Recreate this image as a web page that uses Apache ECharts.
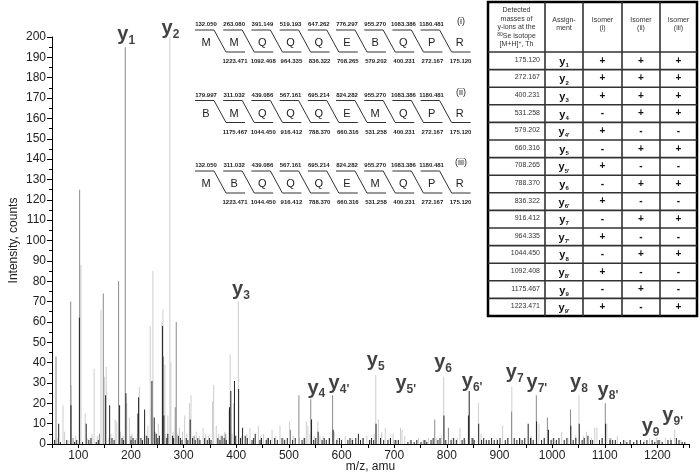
<!DOCTYPE html>
<html>
<head>
<meta charset="utf-8">
<script src="https://cdn.jsdelivr.net/npm/echarts@6/dist/echarts.min.js"></script>
<style>
  html, body { margin: 0; background: #fff; }
  #main { width: 700px; height: 475px; }
</style>
</head>
<body>
<div id="main"></div>
<script>
  // peaks of the three overlaid spectra: [m/z, counts]
  const lightPeaks = [
    [70.9, 19], [74, 6], [86.7, 29], [105, 88], [113, 15], [130, 37], [143, 66], [150, 33], [153, 38],
    [170, 12], [173, 11], [192, 20], [197, 13], [216, 28], [236.6, 58], [241.7, 85], [258.8, 60],
    [260.7, 66], [264.5, 39], [273.9, 200], [275.8, 40], [302, 14], [311, 20], [314, 24], [337, 8],
    [355, 21], [357, 29], [362, 9], [386, 17], [388.4, 44], [395, 20], [404, 70], [426, 8], [442, 9],
    [452, 5], [468, 7], [483, 9], [501, 11], [533, 11], [536, 9], [555, 11], [559, 4], [586, 6],
    [607, 4], [648, 4], [665, 34], [670, 12], [676, 6], [683, 8], [698, 5], [712, 8], [715, 7],
    [720, 4], [746, 3], [765, 3], [794, 33], [825, 8], [860, 20], [906, 9], [923.5, 28], [975, 10],
    [1018, 6], [1051, 24], [1065, 6], [1081, 8], [1085, 8], [1104, 10], [1124, 4], [1185, 3],
    [1198, 3], [1215, 3], [1233, 7],
    [60, 3], [82, 2], [95, 4], [118, 3], [126, 5], [136, 4], [158, 3], [162, 5], [180, 6], [185, 4],
    [202, 5], [210, 3], [228, 4], [232, 9], [246, 6], [252, 10], [266, 5], [270, 14], [280, 6],
    [288, 5], [292, 8], [298, 6], [306, 5], [318, 4], [324, 6], [330, 4], [342, 5], [347, 4],
    [366, 5], [370, 4], [378, 6], [392, 5], [410, 4], [420, 5], [446, 4], [458, 3], [475, 4],
    [490, 3], [508, 4], [520, 3], [540, 5], [548, 4], [565, 4], [575, 3], [592, 3], [620, 3],
    [640, 3], [655, 2], [662, 5], [690, 3], [705, 2], [730, 2], [755, 2], [780, 3], [790, 4],
    [810, 3], [820, 3], [835, 2], [850, 3], [865, 5], [880, 2], [895, 3], [915, 3], [940, 3],
    [960, 4], [985, 3], [1000, 3], [1030, 3], [1045, 4], [1060, 4], [1075, 3], [1095, 3],
    [1112, 3], [1140, 2], [1160, 2], [1175, 2], [1205, 2], [1225, 3], [1245, 2]
  ];
  const midPeaks = [
    [57.6, 43], [85.5, 70], [102.5, 125], [147.4, 74], [176.5, 80], [189.2, 195], [261.9, 43],
    [284.1, 18], [286, 60], [503, 7], [519, 24], [541.5, 22], [583, 24], [777, 12], [803, 8],
    [923, 16], [970, 24], [991, 13], [1035, 17], [1101, 20],
    [90, 3], [140, 5], [200, 4], [245, 6], [320, 4], [380, 5], [460, 3], [530, 3], [620, 2],
    [700, 2], [760, 2], [850, 3], [960, 3], [1110, 3], [1200, 2]
  ];
  const darkPeaks = [
    [62.7, 10], [86, 19], [102, 62], [115, 10], [151.9, 24], [159.5, 19], [178.4, 19], [190.4, 25],
    [213.2, 15], [214.5, 23], [225.9, 17], [239.8, 31], [244.2, 13], [260, 58], [262.5, 14],
    [312.5, 12], [387.2, 18], [389.7, 26], [396.6, 31], [404.5, 27], [412, 8], [436, 5], [543, 12],
    [555.5, 6], [584, 7], [632, 5], [665.5, 10], [794.5, 14], [841, 14], [842.5, 26], [860.5, 10],
    [954.5, 10], [970.5, 11], [993, 7], [1035.5, 9], [1051.5, 10], [1068, 4], [1101.5, 10], [1236, 3],
    [55, 2], [66, 1], [78, 2], [93, 1], [97, 2], [108, 1], [120, 2], [124, 3], [134, 1], [138, 2],
    [164, 3], [168, 2], [183, 3], [186, 2], [200, 2], [204, 3], [208, 2], [219, 3], [222, 2],
    [230, 4], [233, 3], [248, 5], [251, 3], [254, 4], [268, 3], [270, 5], [279, 4], [281, 3],
    [290, 4], [294, 3], [297, 2], [305, 3], [308, 2], [317, 3], [322, 2], [327, 3], [331, 2],
    [340, 3], [345, 2], [349, 3], [352, 2], [365, 3], [369, 2], [373, 4], [377, 3], [381, 2],
    [399, 4], [408, 3], [417, 4], [421, 3], [430, 2], [433, 3], [445, 2], [448, 3], [457, 2],
    [461, 3], [465, 2], [473, 3], [478, 2], [487, 3], [492, 2], [497, 3], [507, 2], [512, 3],
    [525, 2], [529, 3], [547, 2], [551, 3], [563, 2], [567, 3], [571, 2], [577, 3], [591, 2],
    [596, 3], [600, 2], [612, 2], [616, 3], [621, 2], [627, 3], [636, 2], [641, 3], [653, 2],
    [657, 3], [661, 2], [674, 3], [680, 2], [688, 2], [693, 3], [703, 2], [708, 2], [726, 1],
    [732, 2], [738, 1], [743, 2], [751, 1], [757, 2], [762, 1], [770, 2], [774, 3], [783, 2],
    [787, 3], [798, 2], [808, 2], [813, 3], [818, 2], [829, 2], [833, 3], [848, 3], [852, 2],
    [866, 2], [870, 3], [875, 2], [880, 2], [885, 3], [890, 2], [896, 2], [901, 3], [911, 2],
    [916, 3], [928, 3], [933, 2], [938, 3], [943, 2], [948, 3], [959, 3], [964, 2], [980, 2],
    [985, 3], [998, 2], [1003, 3], [1008, 2], [1013, 3], [1023, 2], [1028, 3], [1040, 2],
    [1045, 3], [1057, 2], [1061, 3], [1073, 2], [1077, 2], [1090, 2], [1095, 3], [1110, 2],
    [1115, 2], [1120, 2], [1130, 1], [1136, 2], [1142, 1], [1148, 2], [1155, 1], [1161, 2],
    [1168, 2], [1174, 1], [1180, 2], [1190, 2], [1195, 1], [1203, 2], [1209, 1], [1220, 2],
    [1226, 2], [1241, 2], [1247, 1], [1252, 1]
  ];

  // y-ion tags placed on the spectrum: [m/z, counts] anchor and subscript
  const ionTagPos = [[191, 201], [275, 204], [409, 76], [552, 27.5], [595, 29.5], [665, 41],
    [722, 29.5], [793, 40], [848, 30.5], [929, 35], [971, 30], [1051, 30], [1106, 26.5],
    [1187, 8.4], [1229, 14]];
  const ionTagSub = ['1', '2', '3', '4', "4'", '5', "5'", '6', "6'", '7', "7'", '8', "8'", '9', "9'"];

  // sequences of the three isomers
  const seqLetters = [
    ['M', 'M', 'Q', 'Q', 'Q', 'E', 'B', 'Q', 'P', 'R'],
    ['B', 'M', 'Q', 'Q', 'Q', 'E', 'M', 'Q', 'P', 'R'],
    ['M', 'B', 'Q', 'Q', 'Q', 'E', 'M', 'Q', 'P', 'R']
  ];
  const seqB = [
    ['132.050', '263.080', '391.149', '519.193', '647.262', '776.297', '955.270', '1083.386', '1180.481'],
    ['179.997', '311.032', '439.086', '567.161', '695.214', '824.282', '955.270', '1083.386', '1180.481'],
    ['132.050', '311.032', '439.086', '567.161', '695.214', '824.282', '955.270', '1083.386', '1180.481']
  ];
  const seqY = [
    ['1223.471', '1092.408', '964.335', '836.322', '708.265', '579.202', '400.231', '272.167', '175.120'],
    ['1175.467', '1044.450', '916.412', '788.370', '660.316', '531.258', '400.231', '272.167', '175.120'],
    ['1223.471', '1044.450', '916.412', '788.370', '660.316', '531.258', '400.231', '272.167', '175.120']
  ];
  const seqTags = ['(i)', '(ii)', '(iii)'];

  // table of detected y-ions
  const tableMass = ['175.120', '272.167', '400.231', '531.258', '579.202', '660.316', '708.265',
    '788.370', '836.322', '916.412', '964.335', '1044.450', '1092.408', '1175.467', '1223.471'];
  const tableIon = ['1', '2', '3', '4', "4'", '5', "5'", '6', "6'", '7', "7'", '8', "8'", '9', "9'"];
  const isomerI = ['+', '+', '+', '-', '+', '-', '+', '-', '+', '-', '+', '-', '+', '-', '+'];
  const isomerII = ['+', '+', '+', '+', '-', '+', '-', '+', '-', '+', '-', '+', '-', '+', '-'];
  const isomerIII = ['+', '+', '+', '+', '-', '+', '-', '+', '-', '+', '-', '+', '-', '-', '+'];

  const FONT = '"Liberation Sans", Arial, sans-serif';
  const LIGHT = '#cdcdcd', MID = '#8a8a8a', DARK = '#222';

  function txt(text, x, y, size, opts) {
    opts = opts || {};
    return {
      type: 'text', silent: true, z: 10,
      style: Object.assign({
        text: text, x: x, y: y,
        font: (opts.bold ? 'bold ' : '') + size + 'px ' + FONT,
        fill: opts.fill || '#111',
        textAlign: opts.align || 'center', align: opts.align || 'center',
        textVerticalAlign: 'middle', verticalAlign: 'middle'
      }, opts.rich ? { rich: opts.rich } : {})
    };
  }

  const graphics = [];

  // sequence diagrams
  seqLetters.forEach((row, r) => {
    const off = r * 70.5;
    row.forEach((ch, k) => graphics.push(txt(ch, 206 + 28.2 * k, 43 + off, 11, { fill: '#222' })));
    for (let k = 0; k < 9; k++) {
      const m = 220 + 28.2 * k;
      graphics.push({
        type: 'polyline', silent: true,
        shape: { points: [[m - 25, 30 + off], [m - 6, 30 + off], [m + 6, 52 + off], [m + 25, 52 + off]] },
        style: { stroke: '#333', lineWidth: 1, fill: 'none' }
      });
      graphics.push(txt(seqB[r][k], m - 14, 24.5 + off, 6, { bold: true, fill: '#222' }));
      graphics.push(txt(seqY[r][k], m + 15, 61.5 + off, 6, { bold: true, fill: '#222' }));
    }
    graphics.push(txt(seqTags[r], 461, 22 + off, 9, { fill: '#222' }));
  });

  // table
  const colX = [488, 545, 583, 622, 660, 697];
  const headBottom = 52, rowH = 17.6, nRows = tableMass.length;
  const tBottom = headBottom + rowH * nRows;
  graphics.push({
    type: 'rect', silent: true, z: 5,
    shape: { x: colX[0], y: 2, width: colX[5] - colX[0], height: tBottom - 2 },
    style: { fill: '#fff', stroke: '#000', lineWidth: 2.5 }
  });
  for (let c = 1; c < 5; c++) {
    graphics.push({ type: 'line', silent: true, z: 6,
      shape: { x1: colX[c], y1: 2, x2: colX[c], y2: tBottom },
      style: { stroke: '#333', lineWidth: 1.6 } });
  }
  for (let r = 0; r < nRows; r++) {
    const y = headBottom + rowH * r;
    graphics.push({ type: 'line', silent: true, z: 6,
      shape: { x1: colX[0], y1: y, x2: colX[5], y2: y },
      style: { stroke: '#333', lineWidth: 1.6 } });
  }
  const supRich = { n: { fontSize: 7, fontFamily: FONT, fill: '#333' }, u: { fontSize: 5, fontFamily: FONT, fill: '#333', verticalAlign: 'top', lineHeight: 8 } };
  const head1 = ['Detected', 'masses of', 'y-ions at the', '{u|80}{n|Se isotope}', '{n|[M+H]}{u|+}{n|, Th}'];
  head1.forEach((t, i) => {
    const rich = t.indexOf('{') === 0 ? supRich : null;
    graphics.push(txt(t, 516.5, 10 + 8.6 * i, 7, { fill: '#333', rich: rich }));
  });
  graphics.push(txt('Assign-', 564, 20, 7, { fill: '#333' }));
  graphics.push(txt('ment', 564, 28.5, 7, { fill: '#333' }));
  ['(i)', '(ii)', '(iii)'].forEach((t, i) => {
    const cx = (colX[2 + i] + colX[3 + i]) / 2;
    graphics.push(txt('Isomer', cx, 20, 7, { fill: '#333' }));
    graphics.push(txt(t, cx, 28.5, 7, { fill: '#333' }));
  });
  const ionRich = {
    b: { fontSize: 11, fontWeight: 'bold', fontFamily: FONT, fill: '#111', lineHeight: 13 },
    s: { fontSize: 6, fontWeight: 'bold', fontFamily: FONT, fill: '#111', verticalAlign: 'bottom', lineHeight: 6 }
  };
  const marks = [isomerI, isomerII, isomerIII];
  tableMass.forEach((mass, r) => {
    const cy = headBottom + rowH * r + rowH / 2;
    graphics.push(txt(mass, 540, cy - 1, 7, { align: 'right', fill: '#333' }));
    graphics.push(txt('{b|y}{s|' + tableIon[r] + '}', 564, cy + 1, 11, { rich: ionRich }));
    marks.forEach((col, c) => {
      const cx = (colX[2 + c] + colX[3 + c]) / 2;
      graphics.push(txt(col[r], cx, cy, 10, { bold: true, fill: '#111' }));
    });
  });

  const bar = (data, color) => ({
    type: 'bar', data: data, barWidth: 1, barGap: '-100%', silent: true,
    itemStyle: { color: color }
  });

  const option = {
    animation: false,
    backgroundColor: '#fff',
    textStyle: { fontFamily: FONT },
    grid: { left: 52, right: 11, top: 37, bottom: 31, outerBoundsMode: 'none', containLabel: false },
    xAxis: {
      type: 'value', min: 50, max: 1260, interval: 50,
      name: 'm/z, amu', nameLocation: 'middle', nameGap: 17, nameMoveOverlap: false,
      nameTextStyle: { fontSize: 12, color: '#222' },
      axisLine: { lineStyle: { color: '#000', width: 1 } },
      axisTick: { length: 4, lineStyle: { color: '#000' } },
      axisLabel: { fontSize: 12, color: '#222', margin: 6,
        formatter: v => (v % 100 === 0 ? String(v) : '') },
      splitLine: { show: false }
    },
    yAxis: {
      type: 'value', min: 0, max: 200, interval: 10,
      name: 'Intensity, counts', nameLocation: 'middle', nameGap: 32, nameMoveOverlap: false,
      nameTextStyle: { fontSize: 12, color: '#222' },
      axisLine: { show: true, lineStyle: { color: '#000', width: 1 } },
      axisTick: { show: true, length: 5, lineStyle: { color: '#000' } },
      minorTick: { show: true, splitNumber: 2, length: 3, lineStyle: { color: '#000' } },
      axisLabel: { fontSize: 12, color: '#222', margin: 6 },
      splitLine: { show: false }
    },
    series: [
      bar(lightPeaks, LIGHT),
      bar(midPeaks, MID),
      bar(darkPeaks, DARK),
      {
        type: 'scatter', symbolSize: 0, clip: false, silent: true, z: 20,
        data: ionTagPos.map((p, i) => ({ value: p, name: ionTagSub[i] })),
        label: {
          show: true, position: 'inside',
          formatter: p => '{b|y}{s|' + p.name + '}',
          rich: {
            b: { fontSize: 20, fontWeight: 'bold', fontFamily: FONT, color: '#111', lineHeight: 24 },
            s: { fontSize: 12, fontWeight: 'bold', fontFamily: FONT, color: '#111', verticalAlign: 'bottom', lineHeight: 12 }
          }
        }
      }
    ],
    graphic: { elements: graphics }
  };

  const chart = echarts.init(document.getElementById('main'));
  chart.setOption(option);
</script>
</body>
</html>
